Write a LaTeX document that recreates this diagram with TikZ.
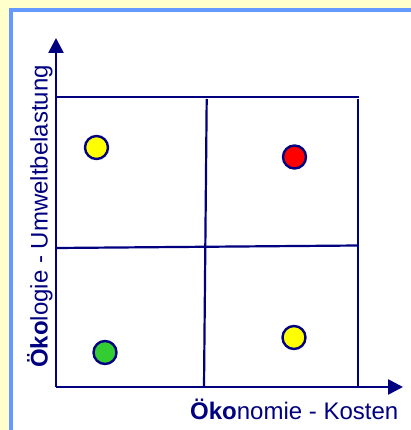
\documentclass[tikz,border=0pt]{standalone}
\usepackage{fontspec}
\setmainfont{Liberation Sans}
\usetikzlibrary{arrows.meta}
\definecolor{navy}{HTML}{000080}
\definecolor{bgyellow}{HTML}{FFFFCC}
\definecolor{framebl}{HTML}{6699FF}
\definecolor{dotyellow}{HTML}{FFFF00}
\definecolor{dotred}{HTML}{FF0000}
\definecolor{dotgreen}{HTML}{33CC33}
\tikzset{
  gridline/.style={draw=navy, line width=2.2pt},
  axisline/.style={draw=navy, line width=2.6pt, -{Triangle[length=15pt,width=15pt]}},
  dot/.style={circle, draw=navy, line width=2.4pt, minimum size=23pt, inner sep=0pt},
  axlabel/.style={text=navy, font=\fontsize{24}{26}\selectfont, inner sep=0pt}
}
\begin{document}
\begin{tikzpicture}[x=1pt,y=-1pt]
\useasboundingbox (0,0) rectangle (411,430);
\fill[bgyellow] (0,0) rectangle (411,430);
\filldraw[fill=white, draw=framebl, line width=4pt] (10.5,10.5) rectangle (425,445);
% grid
\coordinate (tl) at (56,97);
\coordinate (tr) at (359,97);
\coordinate (ml) at (56,248);
\coordinate (mr) at (358,245.5);
\coordinate (vt) at (206.7,99);
\coordinate (vb) at (204,387);
\coordinate (rt) at (358,99);
\coordinate (rb) at (358,387);
\draw[gridline] (tl) -- (tr);
\draw[gridline] (ml) -- (mr);
\draw[gridline] (vt) -- (vb);
\draw[gridline] (rt) -- (rb);
% axes
\coordinate (o) at (56,387);
\coordinate (ytip) at (56,38);
\coordinate (xtip) at (403,387);
\draw[axisline] (o) -- (ytip);
\draw[axisline] (o) -- (xtip);
% dots
\node[dot, fill=dotyellow] (d1) at (96.5,147.5) {};
\node[dot, fill=dotred] (d2) at (294.5,157) {};
\node[dot, fill=dotgreen] (d3) at (105,352.5) {};
\node[dot, fill=dotyellow] (d4) at (294,337.5) {};
% labels
\node[axlabel, anchor=base east] (xl) at (398.5,419) {\textbf{Öko}nomie - Kosten};
\node[axlabel, anchor=base west, rotate=90] (yl) at (47.5,368) {\textbf{Öko}logie - Umweltbelastung};
\end{tikzpicture}
\end{document}
